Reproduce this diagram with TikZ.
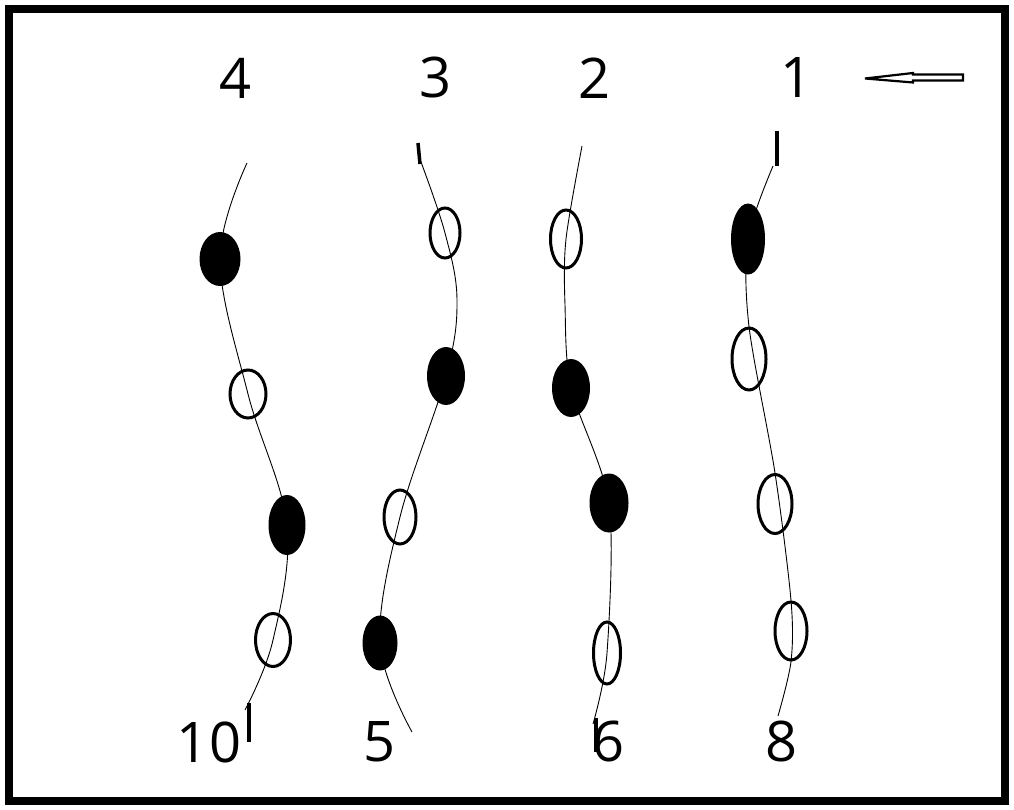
\documentclass[tikz,border=0pt]{standalone}
\usepackage{fontspec}
\setmainfont{Open Sans}
\usetikzlibrary{shapes.geometric}
\newcommand{\numfont}{\fontsize{56}{60}\selectfont}
\begin{document}
\begin{tikzpicture}[x=1pt, y=-1pt,
    strand/.style={black, line width=0.9pt},
    tick/.style={black, line width=3.5pt},
    hole/.style={ellipse, draw, line width=3pt, inner sep=0pt},
    dot/.style={ellipse, fill=black, inner sep=0pt},
    wh/.style 2 args={minimum width=#1pt, minimum height=#2pt},
    num/.style={inner sep=0pt, font=\numfont}]
    \useasboundingbox (0,0) rectangle (1014,810);
    \draw[line width=8pt] (9,9) rectangle (1005,801);
    % labels
    \node[num] (n4) at (236,78) {4};
    \node[num] (n3) at (436,78) {3};
    \node[num] (n2) at (595,78) {2};
    \node[num] (n1) at (796,78) {1};
    \node[num] (n10) at (209,742) {10};
    \node[num] (n5) at (380,742) {5};
    \node[num] (n6) at (609,741) {6};
    \node[num] (n8) at (781,741) {8};
    % arrow
    \draw[line width=2.2pt, line join=miter] (963,74.5) -- (963,80.5) -- (913,80.5) -- (913,82.5) -- (865,78.5) -- (913,73) -- (913,74.5) -- cycle;
    % chain 4
    \node[dot, wh={41}{54}] (d4a) at (220,259) {};
    \node[hole, wh={36}{48}] (h4a) at (248,394) {};
    \node[dot, wh={37}{60}] (d4b) at (287,525) {};
    \node[hole, wh={35}{53}] (h4b) at (273,640) {};
    \coordinate (t4) at (247,163);
    \coordinate (e4) at (245,710);
    \draw[strand] plot[smooth, tension=0.6] coordinates {(t4) (d4a.center) (h4a.center) (d4b.center) (h4b.center) (e4)};
    \draw[tick] (249,703) -- (249,742);
    % chain 3
    \node[hole, wh={30}{50}] (h3a) at (445,233) {};
    \node[dot, wh={38}{58}] (d3a) at (446,376) {};
    \node[hole, wh={32}{54}] (h3b) at (400,517) {};
    \node[dot, wh={35}{55}] (d3b) at (380,643) {};
    \coordinate (t3) at (421,162);
    \coordinate (m3) at (457,300);
    \coordinate (e3) at (412,732);
    \draw[strand] plot[smooth, tension=0.6] coordinates {(t3) (h3a.center) (m3) (d3a.center) (h3b.center) (d3b.center) (e3)};
    \draw[tick] (418,143) -- (420,164);
    % chain 2
    \node[hole, wh={31}{58}] (h2a) at (566,239) {};
    \node[dot, wh={38}{58}] (d2a) at (571,388) {};
    \node[dot, wh={39}{59}] (d2b) at (609,503) {};
    \node[hole, wh={27}{62}] (h2b) at (607,653) {};
    \coordinate (t2) at (582,146);
    \coordinate (m2) at (565,305);
    \coordinate (e2) at (593,724);
    \draw[strand] plot[smooth, tension=0.5] coordinates {(t2) (h2a.center) (m2) (d2a.center) (d2b.center) (h2b.center) (e2)};
    \draw[tick] (596,718) -- (596,752);
    % chain 1
    \node[dot, wh={34}{71}] (d1a) at (748,239) {};
    \node[hole, wh={34}{62}] (h1a) at (749,359) {};
    \node[hole, wh={34}{59}] (h1b) at (775,504) {};
    \node[hole, wh={32}{58}] (h1c) at (791,631) {};
    \coordinate (t1) at (773,166);
    \coordinate (e1) at (778,716);
    \draw[strand] plot[smooth, tension=0.5] coordinates {(t1) (d1a.center) (h1a.north) (h1b.north) (h1c.north) (h1c.south) (e1)};
    \draw[tick] (777,131) -- (777,166);
\end{tikzpicture}
\end{document}
